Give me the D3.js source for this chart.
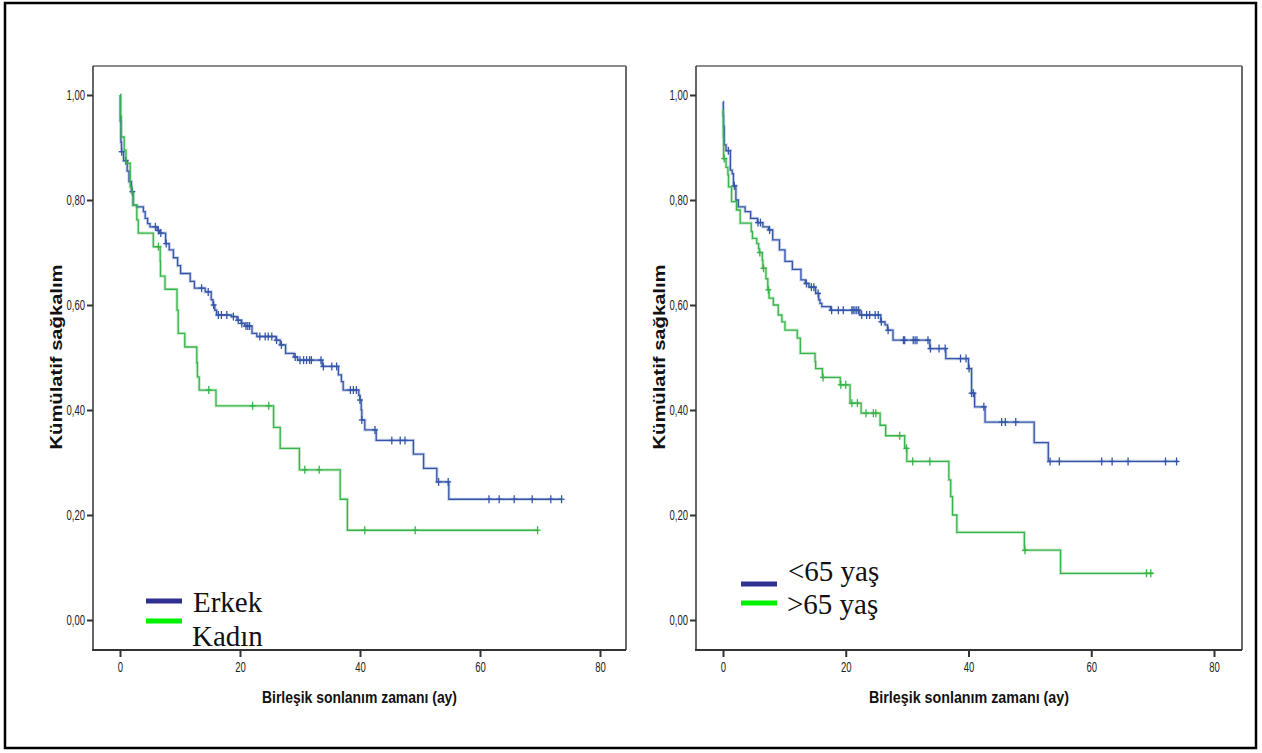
<!DOCTYPE html>
<html lang="tr">
<head>
<meta charset="UTF-8">
<title>Kümülatif sağkalım</title>
<script src="https://cdn.jsdelivr.net/npm/d3@7"></script>
<style>
  body { margin: 0; background: white; }
  svg text { font-family: "Liberation Sans", Arial, sans-serif; }
  .tick text { font-size: 14px; fill: #222; }
  .title { font-weight: bold; font-size: 16px; fill: #111; }
  .legend { font-family: "Liberation Serif", "Times New Roman", serif; font-size: 29px; fill: #111; }
</style>
</head>
<body>
<svg id="chart" width="1262" height="753"></svg>
<script>
// axis ticks and labels
const xTicks = [0, 20, 40, 60, 80];
const yTicks = [0, 0.2, 0.4, 0.6, 0.8, 1.0];
const sexLabels = ["Erkek", "Kadın"];
const ageLabels = ["<65 yaş", ">65 yaş"];
const xTitle = "Birleşik sonlanım zamanı (ay)";
const yTitle = "Kümülatif sağkalım";

// left panel: Erkek (blue)
const erkekTime = [0, 0.05, 0.15, 0.25, 0.6, 1.2, 1.5, 1.9, 2.2, 2.8, 3.9, 4.2, 4.6, 5.0, 6.2, 6.6, 7.6, 8.2, 8.9, 9.6, 10.1, 11.7, 12.4, 14.2, 15.2, 15.5, 15.8, 16.1, 18.6, 19.5, 20.2, 20.8, 22.0, 22.8, 26.0, 26.7, 27.6, 29.0, 29.6, 33.7, 36.4, 36.9, 37.2, 39.8, 40.0, 40.2, 40.3, 40.8, 42.7, 48.9, 50.6, 52.8, 54.8];
const erkekSurv = [1.0, 0.95, 0.91, 0.892, 0.875, 0.855, 0.835, 0.816, 0.79, 0.787, 0.778, 0.765, 0.755, 0.749, 0.742, 0.737, 0.717, 0.705, 0.69, 0.675, 0.66, 0.645, 0.632, 0.625, 0.61, 0.60, 0.59, 0.581, 0.578, 0.571, 0.565, 0.56, 0.546, 0.54, 0.533, 0.524, 0.508, 0.501, 0.495, 0.483, 0.467, 0.454, 0.438, 0.428, 0.419, 0.40, 0.381, 0.362, 0.342, 0.316, 0.289, 0.263, 0.23];
const erkekCensor = [0.28, 0.95, 2.06, 5.9, 6.4, 6.8, 7.7, 13.6, 14.7, 15.6, 16.4, 16.9, 17.8, 18.9, 19.7, 20.3, 21.0, 21.3, 21.6, 23.3, 24.2, 24.7, 25.3, 26.1, 26.9, 29.2, 30.0, 30.6, 31.1, 31.6, 31.9, 33.5, 33.9, 35.3, 36.1, 38.4, 38.9, 39.4, 40.0, 40.3, 42.5, 45.3, 46.7, 47.5, 53.1, 54.7, 61.5, 63.2, 65.7, 68.7, 71.8, 73.6];
const erkekEnd = 73.6;

// left panel: Kadın (green)
const kadinTime = [0, 0.1, 0.2, 0.7, 1.0, 1.7, 2.0, 2.2, 2.8, 3.05, 5.55, 6.7, 6.75, 7.5, 9.5, 9.7, 10.8, 12.8, 12.9, 13.2, 16.0, 25.6, 26.7, 29.9, 36.7, 37.9];
const kadinSurv = [1.0, 0.96, 0.92, 0.895, 0.87, 0.825, 0.813, 0.79, 0.762, 0.737, 0.711, 0.683, 0.655, 0.63, 0.59, 0.546, 0.52, 0.49, 0.463, 0.438, 0.408, 0.367, 0.327, 0.286, 0.23, 0.171];
const kadinCensor = [6.4, 14.8, 22.1, 24.8, 30.8, 33.2, 40.8, 49.2, 69.6];
const kadinEnd = 69.6;

// right panel: <65 yaş (blue)
const gencTime = [0, 0.05, 0.1, 0.2, 0.5, 1.2, 1.5, 1.7, 2.1, 2.5, 3.6, 4.5, 5.6, 6.5, 7.4, 8.1, 9.2, 10.1, 11.3, 12.7, 13.4, 14.0, 15.1, 15.6, 15.8, 16.1, 17.5, 22.3, 25.7, 26.4, 26.8, 27.7, 33.7, 36.3, 40.0, 40.5, 41.0, 42.7, 50.7, 53.0];
const gencSurv = [0.987, 0.96, 0.94, 0.905, 0.894, 0.857, 0.85, 0.827, 0.80, 0.787, 0.778, 0.765, 0.757, 0.749, 0.743, 0.724, 0.705, 0.683, 0.668, 0.648, 0.641, 0.634, 0.622, 0.61, 0.603, 0.597, 0.59, 0.581, 0.568, 0.562, 0.552, 0.533, 0.517, 0.498, 0.479, 0.432, 0.406, 0.377, 0.338, 0.302];
const gencCensor = [0.87, 1.85, 5.7, 6.1, 7.6, 13.6, 14.4, 14.8, 15.5, 17.7, 18.8, 19.6, 21.0, 21.2, 21.5, 21.8, 22.1, 22.6, 23.4, 23.9, 24.8, 25.3, 25.8, 26.9, 29.4, 29.6, 31.0, 31.3, 31.6, 33.4, 33.8, 35.2, 36.2, 38.7, 39.6, 40.1, 40.5, 40.8, 42.5, 45.4, 46.0, 47.7, 53.3, 54.8, 61.7, 63.4, 66.0, 72.1, 73.9];
const gencEnd = 74.2;

// right panel: >65 yaş (green)
const yasliTime = [0, 0.05, 0.1, 0.5, 0.8, 0.9, 1.4, 2.2, 2.8, 4.6, 4.8, 5.5, 5.8, 5.9, 6.4, 6.5, 7.0, 7.3, 7.5, 8.2, 9.0, 9.6, 10.1, 12.1, 12.6, 15.0, 15.1, 16.2, 19.1, 20.7, 22.5, 25.6, 26.5, 29.6, 29.95, 36.8, 37.1, 37.4, 38.1, 49.1, 55.0];
const yasliSurv = [0.971, 0.92, 0.879, 0.862, 0.848, 0.825, 0.797, 0.781, 0.756, 0.74, 0.727, 0.717, 0.708, 0.70, 0.685, 0.67, 0.65, 0.629, 0.613, 0.60, 0.581, 0.568, 0.552, 0.537, 0.508, 0.492, 0.479, 0.462, 0.448, 0.413, 0.394, 0.371, 0.351, 0.327, 0.302, 0.267, 0.235, 0.20, 0.167, 0.133, 0.089];
const yasliCensor = [0.2, 6.0, 6.6, 7.4, 16.3, 19.2, 20.0, 21.0, 21.9, 23.3, 24.5, 24.9, 28.8, 29.9, 30.9, 33.7, 49.2, 69.0, 69.7];
const yasliEnd = 70.1;

const blue = "#3556a8", green = "#36b449";
const legendBlue = "#2e3192", legendGreen = "#00f000";

const svg = d3.select("#chart");

// outer frame
svg.append("rect")
    .attr("x", 5).attr("y", 3)
    .attr("width", 1251).attr("height", 745)
    .attr("fill", "white").attr("stroke", "#000").attr("stroke-width", 2.5);

const fmt = d => d3.format(".2f")(d).replace(".", ",");
const sx = 0.68; // tick labels are narrow

function drawPanel(p) {
    const h = 584;
    const g = svg.append("g").attr("transform", `translate(${p.left},66)`);
    const x = d3.scaleLinear().domain([0, 80]).range([27, p.width - p.rightPad]);
    const y = d3.scaleLinear().domain([0, 1]).range([554, 29]);

    // box: top/right grey, left/bottom dark
    g.append("line").attr("x1", 0).attr("x2", p.width).attr("y1", 0).attr("y2", 0)
        .attr("stroke", "#8a8a8a").attr("stroke-width", 2);
    g.append("line").attr("x1", p.width).attr("x2", p.width).attr("y1", 0).attr("y2", h)
        .attr("stroke", "#6a6a6a").attr("stroke-width", 2);
    g.append("line").attr("x1", 0).attr("x2", 0).attr("y1", 0).attr("y2", h)
        .attr("stroke", "#333").attr("stroke-width", 1.5);
    g.append("line").attr("x1", -1).attr("x2", p.width).attr("y1", h).attr("y2", h)
        .attr("stroke", "#333").attr("stroke-width", 2);

    const ya = g.append("g")
        .call(d3.axisLeft(y).tickValues(yTicks).tickFormat(fmt).tickSize(6).tickPadding(3));
    ya.select(".domain").remove();
    ya.selectAll(".tick line").attr("stroke", "#333").attr("stroke-width", 2);
    ya.selectAll(".tick text").attr("x", -8 / sx).attr("transform", `scale(${sx},1)`);

    const xa = g.append("g").attr("transform", `translate(0,${h})`)
        .call(d3.axisBottom(x).tickValues(xTicks).tickFormat(d3.format("d")).tickSize(7).tickPadding(5));
    xa.select(".domain").remove();
    xa.selectAll(".tick line").attr("stroke", "#333").attr("stroke-width", 2);
    xa.selectAll(".tick text").attr("transform", `scale(${sx},1)`);

    g.append("text").attr("class", "title")
        .attr("x", p.width / 2).attr("y", h + 53)
        .attr("text-anchor", "middle")
        .attr("font-size", 16.5)
        .attr("textLength", p.titleLen).attr("lengthAdjust", "spacingAndGlyphs")
        .text(xTitle);

    g.append("text").attr("class", "title")
        .attr("transform", `translate(${p.yTitleX},${h / 2 - 1}) rotate(-90)`)
        .attr("text-anchor", "middle")
        .attr("textLength", 185).attr("lengthAdjust", "spacingAndGlyphs")
        .text(yTitle);

    const line = d3.line().x(d => x(d[0])).y(d => y(d[1])).curve(d3.curveStepAfter);

    p.series.forEach(s => {
        const pts = s.time.map((t, i) => [t, s.surv[i]]);
        pts.push([s.end, s.surv[s.surv.length - 1]]);
        g.append("path").attr("d", line(pts)).attr("fill", "none")
            .attr("stroke", s.color).attr("stroke-width", 3.2).attr("stroke-opacity", 0.25);
        g.append("path").attr("d", line(pts)).attr("fill", "none")
            .attr("stroke", s.color).attr("stroke-width", 1.3);

        const marks = s.censor.map(c => [c, s.surv[d3.bisectRight(s.time, c) - 1]]);
        const mg = g.append("g").attr("stroke", s.color).attr("stroke-width", 1.3);
        mg.selectAll("line.v").data(marks).join("line").attr("class", "v")
            .attr("x1", d => x(d[0])).attr("x2", d => x(d[0]))
            .attr("y1", d => y(d[1]) - 4).attr("y2", d => y(d[1]) + 4);
        mg.selectAll("line.h").data(marks).join("line").attr("class", "h")
            .attr("x1", d => x(d[0]) - 3).attr("x2", d => x(d[0]) + 3)
            .attr("y1", d => y(d[1])).attr("y2", d => y(d[1]));
    });

    // legend
    const lg = g.append("g").attr("transform", `translate(${p.legend[0]},${p.legend[1]})`);
    p.labels.forEach((lab, i) => {
        lg.append("line").attr("x1", 0).attr("x2", 36)
            .attr("y1", i * p.legendGap).attr("y2", i * p.legendGap)
            .attr("stroke", i === 0 ? legendBlue : legendGreen).attr("stroke-width", 5);
        lg.append("text").attr("class", "legend")
            .attr("x", 47 - i).attr("y", p.textY[i])
            .text(lab);
    });
}

drawPanel({
    left: 93, width: 533, rightPad: 26, titleLen: 195, yTitleX: -31,
    legend: [53, 535], legendGap: 20, textY: [11, 45], labels: sexLabels,
    series: [
        {time: erkekTime, surv: erkekSurv, censor: erkekCensor, end: erkekEnd, color: blue},
        {time: kadinTime, surv: kadinSurv, censor: kadinCensor, end: kadinEnd, color: green}
    ]
});

drawPanel({
    left: 696, width: 546, rightPad: 28, titleLen: 200, yTitleX: -31,
    legend: [45, 518], legendGap: 19, textY: [-3, 30], labels: ageLabels,
    series: [
        {time: gencTime, surv: gencSurv, censor: gencCensor, end: gencEnd, color: blue},
        {time: yasliTime, surv: yasliSurv, censor: yasliCensor, end: yasliEnd, color: green}
    ]
});
</script>
</body>
</html>
